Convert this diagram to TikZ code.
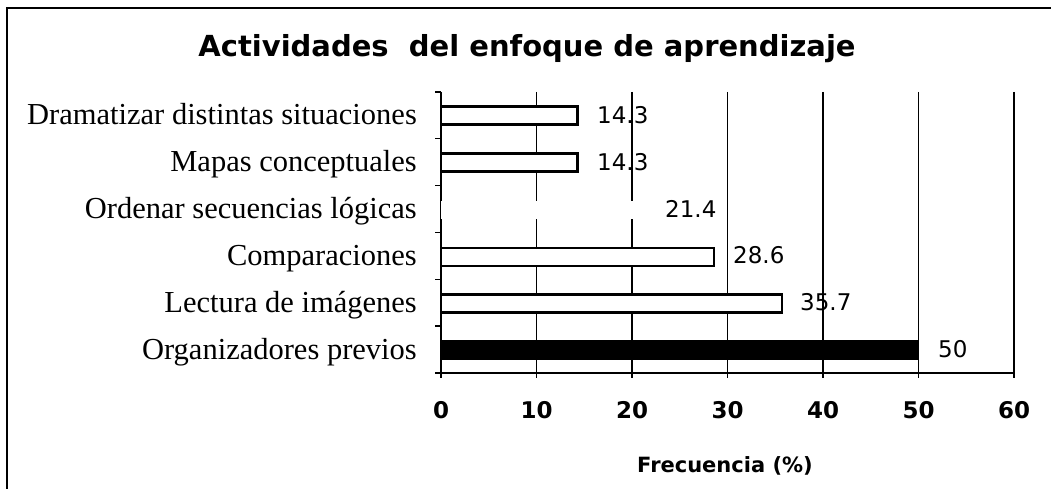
\documentclass[tikz,border=0pt]{standalone}
\usepackage{fontspec}
\setmainfont{Liberation Serif}
\newfontfamily\chartfont{DejaVu Sans}
\begin{document}
\begin{tikzpicture}[x=1pt,y=-1pt,
		bar/.style={draw=black,line width=2.6pt,fill=white},
		gridline/.style={line width=1.4pt},
		catlabel/.style={anchor=base east,inner sep=0pt,font=\fontsize{30.5}{30.5}\selectfont},
		vallabel/.style={anchor=base west,inner sep=0pt,font=\chartfont\fontsize{23}{23}\selectfont},
		ticklabel/.style={anchor=base,inner sep=0pt,font=\chartfont\bfseries\fontsize{23}{23}\selectfont}]
	\useasboundingbox (0,0) rectangle (1051,489);
	% frame
	\draw [line width=2pt] (7,489) -- (7,8) -- (1051,8);
	\node (title) at (527,57) [anchor=base,inner sep=0pt,font=\chartfont\bfseries\fontsize{29}{29}\selectfont] {Actividades\ \ del enfoque de aprendizaje};
	% grid and axes
	\foreach \k in {1,...,6}
		\draw [gridline] (441+95.5*\k,92) -- (441+95.5*\k,378);
	\draw [gridline] (441,92) -- (441,378);
	\draw [gridline] (441,373) -- (1014,373);
	\foreach \t in {92,138.8,185.6,232.4,279.2,326,373}
		\draw [gridline] (435,\t) -- (441,\t);
	% bars
	\draw [bar] (441,106.5) rectangle (577.6,124.5);
	\draw [bar] (441,153.3) rectangle (577.6,171.3);
	\fill [white] (441,201) rectangle (645.4,219);
	\draw [bar] (441,247.9) rectangle (714.1,265.9);
	\draw [bar] (441,294.7) rectangle (781.9,312.7);
	\fill [black] (441,339.5) rectangle (918.5,359.5);
	% values
	\node (v1) at (597,123.5) [vallabel] {14.3};
	\node (v2) at (597,170.3) [vallabel] {14.3};
	\node (v3) at (665,217.1) [vallabel] {21.4};
	\node (v4) at (733,263.9) [vallabel] {28.6};
	\node (v5) at (800,310.7) [vallabel] {35.7};
	\node (v6) at (938,357.5) [vallabel] {50};
	% categories
	\node (c1) at (417,125) [catlabel] {Dramatizar distintas situaciones};
	\node (c2) at (417,171.8) [catlabel] {Mapas conceptuales};
	\node (c3) at (417,218.6) [catlabel] {Ordenar secuencias lógicas};
	\node (c4) at (417,265.4) [catlabel] {Comparaciones};
	\node (c5) at (417,312.2) [catlabel] {Lectura de imágenes};
	\node (c6) at (417,359) [catlabel] {Organizadores previos};
	% x axis
	\node (t0) at (441,418) [ticklabel] {0};
	\node (t1) at (536.5,418) [ticklabel] {10};
	\node (t2) at (632,418) [ticklabel] {20};
	\node (t3) at (727.5,418) [ticklabel] {30};
	\node (t4) at (823,418) [ticklabel] {40};
	\node (t5) at (918.5,418) [ticklabel] {50};
	\node (t6) at (1014,418) [ticklabel] {60};
	\node (xlabel) at (725,472) [anchor=base,inner sep=0pt,font=\chartfont\bfseries\fontsize{21}{21}\selectfont] {Frecuencia (\%)};
\end{tikzpicture}
\end{document}
